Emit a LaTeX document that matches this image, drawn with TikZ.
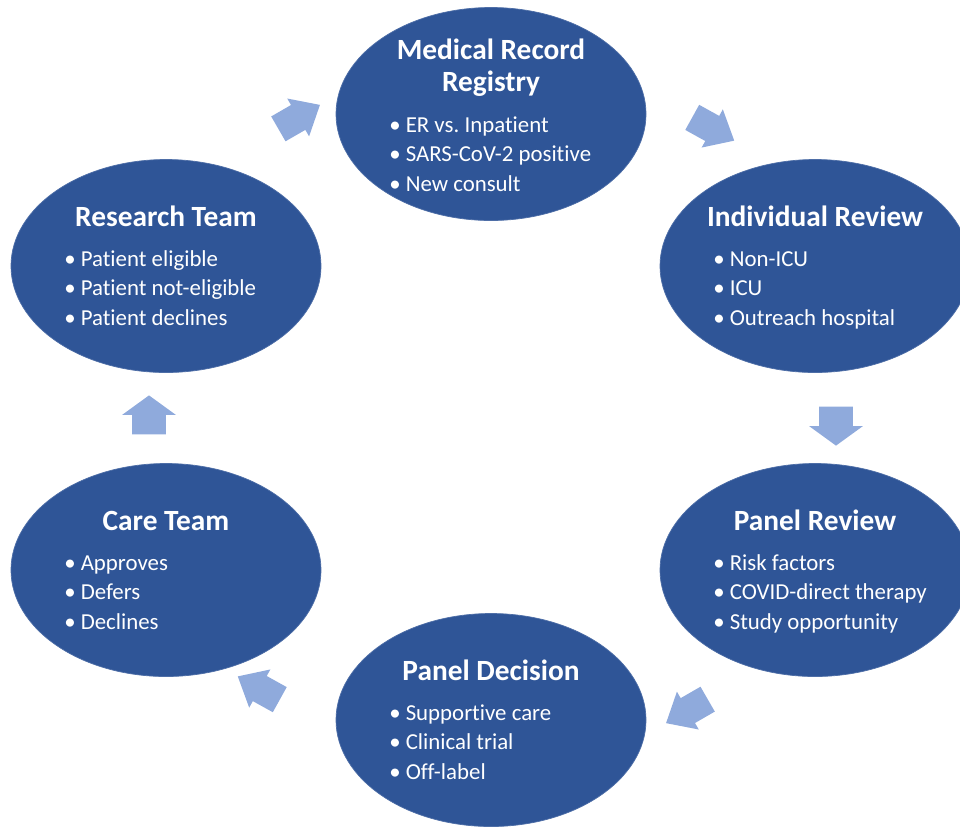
\documentclass[tikz,border=0pt]{standalone}
\usepackage{fontspec}
\setmainfont{Carlito}[Ligatures=NoCommon]
\usetikzlibrary{shapes.geometric,shapes.arrows,calc}
\definecolor{bleufonce}{RGB}{47,85,151}
\definecolor{bleuclair}{RGB}{143,170,220}
\newcommand{\puce}{\textbullet\hspace{0.22em}}

\begin{document}
\begin{tikzpicture}[x=0.2mm,y=0.2mm,
	etape/.style={ellipse,fill=bleufonce,draw=bleufonce!85!white,minimum width=62mm,minimum height=42.6mm,inner sep=0pt},
	titre/.style={text=white,font=\fontsize{16.7}{18}\selectfont\bfseries,align=center,anchor=base,inner sep=0pt},
	liste/.style={text=white,font=\fontsize{13}{16.8}\selectfont,anchor=base west,inner sep=0pt},
	fleche/.style={single arrow,fill=bleuclair,inner xsep=0pt,inner ysep=2.8mm,minimum height=9.6mm,single arrow head extend=1.5mm,single arrow tip angle=82},
	flechev/.style={fleche,inner ysep=3.3mm,minimum height=7.8mm,single arrow head extend=2mm,single arrow tip angle=108},
	]
	\useasboundingbox (0,0) rectangle (960,-826);

	%\node (nom) at(x,y) [style] {} : les six etapes du cycle
	\node (registry) at(491,-114) [etape] {};
	\node (individual) at(815,-266) [etape] {};
	\node (panel review) at(815,-570) [etape] {};
	\node (decision) at(491,-720) [etape] {};
	\node (care) at(166,-570) [etape] {};
	\node (research) at(166,-266) [etape] {};

	%titres (base = derniere ligne)
	\node (registry titre) at($(registry)+(0,23)$) [titre] {Medical Record\\Registry};
	\node (individual titre) at($(individual)+(0,40)$) [titre] {Individual Review};
	\node (panel review titre) at($(panel review)+(0,40)$) [titre] {Panel Review};
	\node (decision titre) at($(decision)+(0,40)$) [titre] {Panel Decision};
	\node (care titre) at($(care)+(0,40)$) [titre] {Care Team};
	\node (research titre) at($(research)+(0,40)$) [titre] {Research Team};

	%listes a puces
	\node (registry liste) at($(registry)+(-102,-18)$) [liste] {\begin{tabular}[t]{@{}l@{}}\puce ER vs.\ Inpatient\\ \puce SARS-CoV-2 positive\\ \puce New consult\end{tabular}};
	\node (individual liste) at($(individual)+(-102,0)$) [liste] {\begin{tabular}[t]{@{}l@{}}\puce Non-ICU\\ \puce ICU\\ \puce Outreach hospital\end{tabular}};
	\node (panel review liste) at($(panel review)+(-102,0)$) [liste] {\begin{tabular}[t]{@{}l@{}}\puce Risk factors\\ \puce COVID-direct therapy\\ \puce Study opportunity\end{tabular}};
	\node (decision liste) at($(decision)+(-102,0)$) [liste] {\begin{tabular}[t]{@{}l@{}}\puce Supportive care\\ \puce Clinical trial\\ \puce Off-label\end{tabular}};
	\node (care liste) at($(care)+(-102,0)$) [liste] {\begin{tabular}[t]{@{}l@{}}\puce Approves\\ \puce Defers\\ \puce Declines\end{tabular}};
	\node (research liste) at($(research)+(-102,0)$) [liste] {\begin{tabular}[t]{@{}l@{}}\puce Patient eligible\\ \puce Patient not-eligible\\ \puce Patient declines\end{tabular}};

	%fleches entre les etapes (rotate = sens de la fleche)
	\node (fleche 1) at(292,-121) [fleche,rotate=30] {};
	\node (fleche 2) at(706,-125) [fleche,rotate=-29] {};
	\node (fleche 3) at(836,-420) [flechev,rotate=-90] {};
	\node (fleche 4) at(694,-707) [fleche,rotate=-150] {};
	\node (fleche 5) at(266,-692) [fleche,rotate=151] {};
	\node (fleche 6) at(149,-421) [flechev,rotate=90] {};
\end{tikzpicture}
\end{document}
